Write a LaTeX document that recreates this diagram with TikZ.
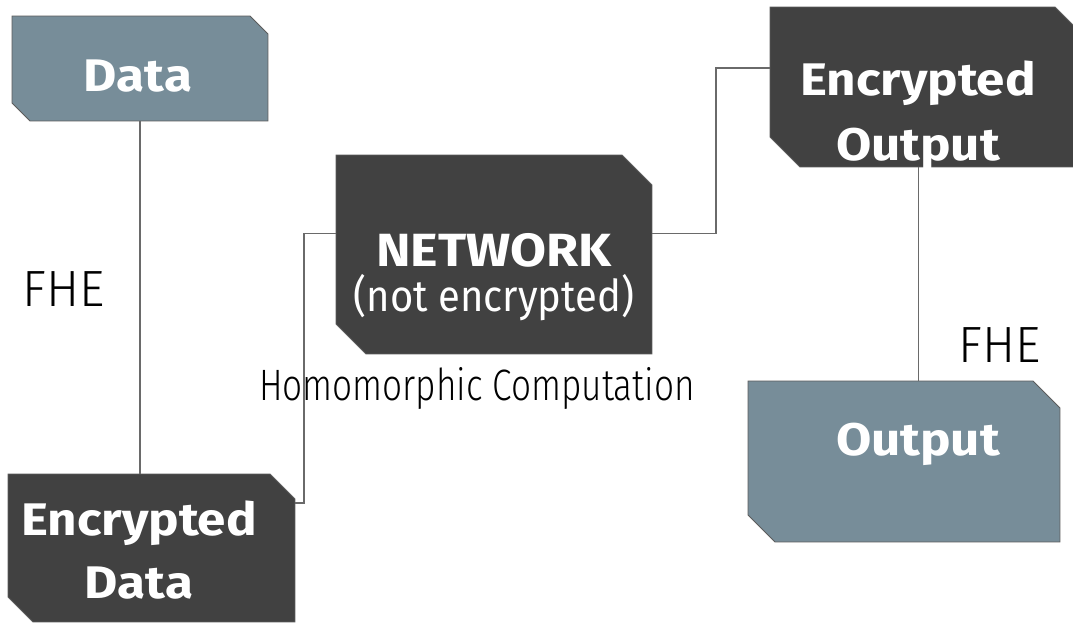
\documentclass[tikz,border=0pt]{standalone}
\usepackage{fontspec}
\setmainfont{Fira Sans}[BoldFeatures={FakeStretch=1.12}]
\newfontfamily\lightfont[FakeStretch=0.8]{Fira Sans Light}
\newfontfamily\fhefont[FakeStretch=0.97]{Fira Sans Light}
\newfontfamily\plainfont[FakeStretch=0.91]{Fira Sans}
\usepackage{tikz}
\usetikzlibrary{positioning,calc}
\definecolor{slate}{HTML}{778D99}
\definecolor{coal}{HTML}{414141}
\definecolor{rimgrey}{HTML}{5C5C5C}
\definecolor{linkgrey}{HTML}{6A6A6A}
\tikzstyle{link} = [draw=linkgrey,line width=0.6pt]
\tikzstyle{box} = [rectangle,inner sep=0pt,outer sep=0pt]

\begin{document}
\begin{tikzpicture}[x=0.02cm,y=-0.02cm]
            \tikzstyle{boxtext} = [text=white,align=center,inner sep=0pt,font=\bfseries\fontsize{26}{35.5}\selectfont]
            \tikzstyle{thin label} = [inner sep=0pt,font=\lightfont\fontsize{25}{30}\selectfont]
          \useasboundingbox (0,0) rectangle (1073,623);
          \clip (0,0) rectangle (1073,623);
          % boxes
          \node[box,minimum width=5.12cm,minimum height=2.1cm] (data) at (140,68.5) {};
          \node[box,minimum width=5.74cm,minimum height=2.96cm] (encdata) at (151.5,548) {};
          \node[box,minimum width=6.32cm,minimum height=3.98cm] (network) at (494,254.5) {};
          \node[box,minimum width=6.3cm,minimum height=3.2cm] (encout) at (927.5,87) {};
          \node[box,minimum width=6.24cm,minimum height=3.22cm] (output) at (904,461.5) {};
          % cut corners
          \foreach \b/\c/\col in {data/18/slate,encdata/25/coal,network/30/coal,encout/30/coal,output/27/slate}
            \filldraw[fill=\col,draw=rimgrey,line width=0.5pt] (\b.north west) -- ($(\b.north east)+(-\c,0)$) -- ($(\b.north east)+(0,\c)$)
              -- (\b.south east) -- ($(\b.south west)+(\c,0)$) -- ($(\b.south west)+(0,-\c)$) -- cycle;
          % box texts
          \node[boxtext] (datatext) at (138,76) {Data};
          \node[boxtext] (encdatatext) at (139,550) {Encrypted\\Data};
          \node[boxtext,font=\fontsize{26.5}{25.6}\selectfont] (networktext) at (494,277) {\bfseries NETWORK\\{\plainfont\fontsize{25}{25.6}\selectfont(not encrypted)}};
          \node[boxtext,font=\bfseries\fontsize{26}{37}\selectfont] (encouttext) at (918,116) {Encrypted\\Output};
          \node[boxtext] (outputtext) at (918,444) {Output};
          % connectors
          \draw[link] (data.south) -- (data.south |- encdata.north);
          \draw[link] ($(encdata.east)+(0,-45)$) -- ++(9,0) |- ($(network.west)+(0,-21)$);
          \draw[link] ($(network.east)+(0,-21)$) -- ++(64,0) |- ($(encout.west)+(0,-19)$);
          \coordinate (fhejoin) at ($(encout.south)+(-9,0)$);
          \draw[link] (fhejoin) -- (fhejoin |- output.north);
          % labels
          \node[thin label,font=\fhefont\fontsize{29}{30}\selectfont] (fheleft) at (64,289) {FHE};
          \node[thin label,font=\fhefont\fontsize{29}{30}\selectfont] (fheright) at (1000,345) {FHE};
          \node[thin label] (homomorphic) at (477,388) {Homomorphic Computation};
        \end{tikzpicture}
\end{document}
